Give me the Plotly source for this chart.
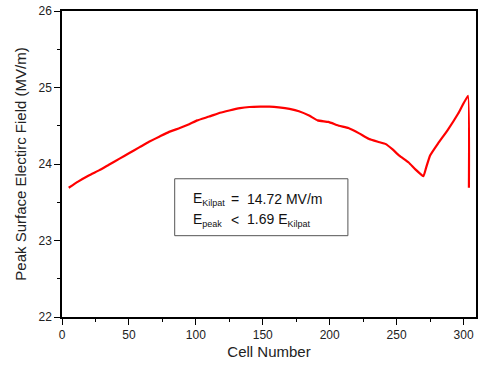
import plotly.graph_objects as go

cell_number = [5, 12, 20, 28, 35, 43, 50, 58, 65, 73, 80, 88, 95, 101, 110, 118, 125, 133, 140, 148, 155, 162,
               170, 177, 185, 191, 199, 207, 214, 222, 229, 236, 242, 247, 252, 259, 264, 270, 272, 275,
               281, 288, 296, 303.3, 304]
peak_field = [23.69, 23.77, 23.85, 23.92, 23.99, 24.07, 24.14, 24.22, 24.29, 24.36, 24.42, 24.47, 24.52, 24.57,
              24.62, 24.67, 24.70, 24.73, 24.745, 24.75, 24.75, 24.74, 24.72, 24.69, 24.63, 24.57, 24.55,
              24.50, 24.47, 24.40, 24.33, 24.29, 24.26, 24.19, 24.11, 24.02, 23.93, 23.84, 23.95, 24.11,
              24.27, 24.44, 24.66, 24.89, 23.69]

x_ticks = [0, 50, 100, 150, 200, 250, 300]
y_ticks = [22, 23, 24, 25, 26]

font = "Liberation Sans, Arial, sans-serif"

fig = go.Figure()
fig.add_trace(go.Scatter(x=cell_number, y=peak_field, mode="lines",
                         line=dict(color="#ff0000", width=2.2, shape="spline", smoothing=0.3),
                         showlegend=False))

axis_common = dict(showline=True, linecolor="black", linewidth=1.5, mirror=True,
                   showgrid=False, zeroline=False, ticks="outside", ticklen=6, tickwidth=1,
                   tickcolor="black", tickfont=dict(family=font, size=12, color="#222"))

fig.update_xaxes(range=[0, 309.3], tickvals=x_ticks, ticktext=[str(v) for v in x_ticks],
                 minor=dict(dtick=25, ticklen=3, ticks="outside", tickcolor="black"),
                 title=dict(text="Cell Number", font=dict(family=font, size=15, color="#222"), standoff=5),
                 **axis_common)
fig.update_yaxes(range=[22, 26], tickvals=y_ticks, ticktext=[str(v) for v in y_ticks],
                 minor=dict(dtick=0.5, ticklen=3, ticks="outside", tickcolor="black"),
                 title=dict(text="Peak Surface Electirc Field (MV/m)", font=dict(family=font, size=15, color="#222"), standoff=8),
                 **axis_common)

# text box
fig.add_shape(type="rect", xref="x", yref="y", x0=84.2, x1=213.6, y0=23.063, y1=23.807,
              line=dict(color="#555", width=1), fillcolor="white")
sub = "<sub><span style='font-size:9px'>{}</span></sub>"
rows = [(23.545, "E" + sub.format("Kilpat"), "=", "14.72 MV/m"),
        (23.27, "E" + sub.format("peak"), "<", "1.69 E" + sub.format("Kilpat"))]
for y, a, b, c in rows:
    for x, t in [(96.5, a), (125, b), (136.5, c)]:
        fig.add_annotation(x=x, y=y, xref="x", yref="y", text=t, showarrow=False,
                           xanchor="left", yanchor="middle",
                           font=dict(family=font, size=14, color="#111"))

fig.update_layout(width=479, height=365, margin=dict(l=62, r=1, t=11, b=48),
                  paper_bgcolor="white", plot_bgcolor="white")
fig.write_html("out.html")
